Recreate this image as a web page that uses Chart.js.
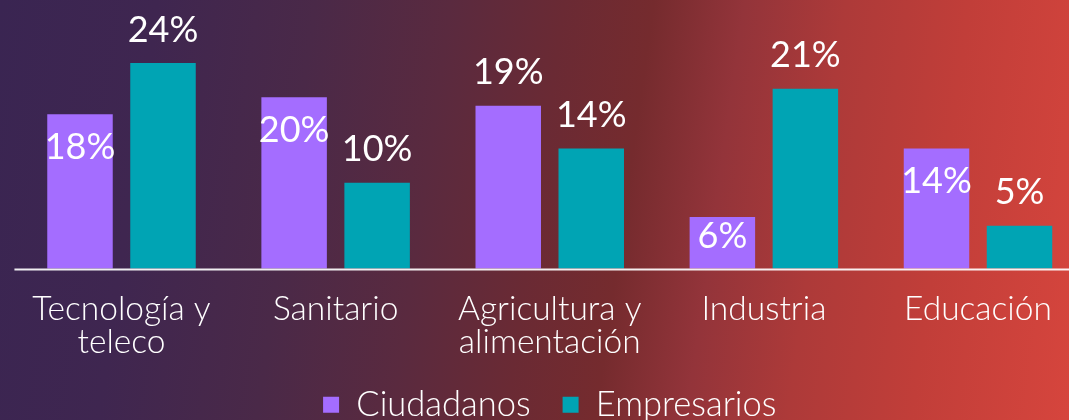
<!DOCTYPE html>
<html><head><meta charset="utf-8">
<script src="https://cdn.jsdelivr.net/npm/chart.js@4.4.1/dist/chart.umd.min.js"></script>
<style>
html,body{margin:0;padding:0;overflow:hidden;background:#3a2552;}
#wrap{position:relative;width:1069px;height:420px;
background:linear-gradient(98deg,#3a2552 0%,#3f2650 14%,#4a2948 28%,#5a2a3f 40%,#6a2a34 50%,#752b2e 58%,#93343a 66%,#ad3a39 75%,#c13e39 86%,#d6453d 100%);}
canvas{display:block}
</style></head><body>
<div id="wrap"><canvas id="c" width="1069" height="420"></canvas></div>
<script>
const categories = [['Tecnología y','teleco'],'Sanitario',['Agricultura y','alimentación'],'Industria','Educación'];
const seriesNames = ['Ciudadanos','Empresarios'];
const ciudadanos = [18,20,19,6,14];
const empresarios = [24,10,14,21,5];
const ciudadanosLabelPos = ['inside','inside','above','inside','inside'];
const empresariosLabelPos = ['above','above','above','above','above'];

const FONT = 'Lato, "Liberation Sans", sans-serif';
const PURPLE = '#a46dff';
const TEAL = '#00a4b4';

const valueLabels = {
  id: 'valueLabels',
  afterDatasetsDraw(chart) {
    const ctx = chart.ctx;
    ctx.save();
    ctx.fillStyle = '#ffffff';
    ctx.font = '400 36px ' + FONT;
    ctx.textAlign = 'center';
    ctx.textBaseline = 'middle';
    chart.data.datasets.forEach((ds, di) => {
      const meta = chart.getDatasetMeta(di);
      meta.data.forEach((bar, i) => {
        const h = bar.base - bar.y;
        const pos = ds.labelPos[i];
        const y = pos === 'inside' ? bar.y + Math.min(33, h / 2 - 6) : bar.y - 33;
        ctx.fillText(ds.data[i] + '%', bar.x, y);
      });
    });
    ctx.restore();
  }
};

const baseline = {
  id: 'baseline',
  afterDatasetsDraw(chart) {
    const x = chart.scales.x, y = chart.scales.y;
    const cat = (x.getPixelForValue(1) - x.getPixelForValue(0));
    const ctx = chart.ctx;
    ctx.save();
    ctx.strokeStyle = 'rgba(255,255,255,0.92)';
    ctx.lineWidth = 2;
    const py = y.getPixelForValue(0) + 1;
    ctx.beginPath();
    ctx.moveTo(x.getPixelForValue(0) - cat / 2, py);
    ctx.lineTo(chart.width, py);
    ctx.stroke();
    ctx.restore();
  }
};

new Chart(document.getElementById('c'), {
  type: 'bar',
  data: {
    labels: categories,
    datasets: [
      { label: seriesNames[0], data: ciudadanos, backgroundColor: PURPLE, labelPos: ciudadanosLabelPos, clip: false },
      { label: seriesNames[1], data: empresarios, backgroundColor: TEAL, labelPos: empresariosLabelPos, clip: false }
    ]
  },
  options: {
    responsive: false,
    animation: false,
    events: [],
    categoryPercentage: 0.7753,
    barPercentage: 0.789,
    layout: { padding: { left: 121.5, right: 91, top: 0, bottom: -12 } },
    scales: {
      x: {
        offset: false,
        grid: { display: false, drawTicks: false },
        border: { display: false },
        ticks: { color: '#ffffff', autoSkip: false, maxRotation: 0, padding: 24,
                 font: { family: FONT, size: 33.5, weight: 300, lineHeight: 0.985 } },
        afterFit(s) { s.height = 87; s.paddingLeft = 0; s.paddingRight = 0; }
      },
      y: { display: false, min: 0, max: 31.35 }
    },
    plugins: {
      legend: {
        position: 'bottom',
        labels: { color: '#ffffff', boxWidth: 16, boxHeight: 16, padding: 32,
                  font: { family: FONT, size: 34.5, weight: 300 } }
      },
      tooltip: { enabled: false }
    }
  },
  plugins: [valueLabels, baseline]
});
</script>
</body></html>
